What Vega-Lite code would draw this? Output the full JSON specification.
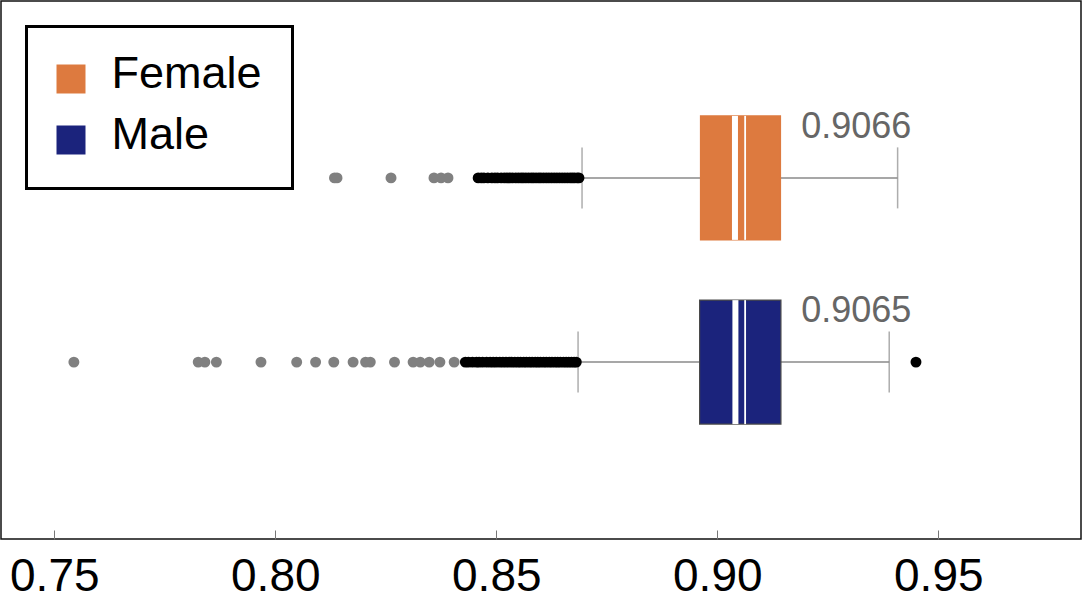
{
  "$schema": "https://vega.github.io/schema/vega-lite/v6.json",
  "width": 1080,
  "height": 538,
  "autosize": {"type": "none"},
  "padding": {"left": 1, "top": 1, "right": 2, "bottom": 65},
  "background": "white",
  "config": {"view": {"stroke": "#111111", "strokeWidth": 1.5}, "font": "Liberation Sans"},
  "datasets": {
    "boxes": [
      {"group": "Female", "lower": 0.8694, "q1": 0.8962, "mean": 0.9040, "median": 0.9063, "q3": 0.9143, "upper": 0.9408, "label": "0.9066"},
      {"group": "Male", "lower": 0.8685, "q1": 0.8960, "mean": 0.9041, "median": 0.9063, "q3": 0.9144, "upper": 0.9389, "label": "0.9065"}
    ],
    "points": [
      {"group": "Female", "value": 0.8459, "kind": "near"},
      {"group": "Female", "value": 0.8466, "kind": "near"},
      {"group": "Female", "value": 0.8472, "kind": "near"},
      {"group": "Female", "value": 0.8481, "kind": "near"},
      {"group": "Female", "value": 0.8490, "kind": "near"},
      {"group": "Female", "value": 0.8497, "kind": "near"},
      {"group": "Female", "value": 0.8503, "kind": "near"},
      {"group": "Female", "value": 0.8511, "kind": "near"},
      {"group": "Female", "value": 0.8518, "kind": "near"},
      {"group": "Female", "value": 0.8524, "kind": "near"},
      {"group": "Female", "value": 0.8531, "kind": "near"},
      {"group": "Female", "value": 0.8537, "kind": "near"},
      {"group": "Female", "value": 0.8544, "kind": "near"},
      {"group": "Female", "value": 0.8550, "kind": "near"},
      {"group": "Female", "value": 0.8556, "kind": "near"},
      {"group": "Female", "value": 0.8561, "kind": "near"},
      {"group": "Female", "value": 0.8567, "kind": "near"},
      {"group": "Female", "value": 0.8573, "kind": "near"},
      {"group": "Female", "value": 0.8579, "kind": "near"},
      {"group": "Female", "value": 0.8584, "kind": "near"},
      {"group": "Female", "value": 0.8590, "kind": "near"},
      {"group": "Female", "value": 0.8596, "kind": "near"},
      {"group": "Female", "value": 0.8601, "kind": "near"},
      {"group": "Female", "value": 0.8607, "kind": "near"},
      {"group": "Female", "value": 0.8613, "kind": "near"},
      {"group": "Female", "value": 0.8619, "kind": "near"},
      {"group": "Female", "value": 0.8625, "kind": "near"},
      {"group": "Female", "value": 0.8631, "kind": "near"},
      {"group": "Female", "value": 0.8637, "kind": "near"},
      {"group": "Female", "value": 0.8643, "kind": "near"},
      {"group": "Female", "value": 0.8649, "kind": "near"},
      {"group": "Female", "value": 0.8655, "kind": "near"},
      {"group": "Female", "value": 0.8661, "kind": "near"},
      {"group": "Female", "value": 0.8667, "kind": "near"},
      {"group": "Female", "value": 0.8672, "kind": "near"},
      {"group": "Female", "value": 0.8677, "kind": "near"},
      {"group": "Female", "value": 0.8683, "kind": "near"},
      {"group": "Female", "value": 0.8687, "kind": "near"},
      {"group": "Female", "value": 0.81339, "kind": "far"},
      {"group": "Female", "value": 0.81396, "kind": "far"},
      {"group": "Female", "value": 0.82618, "kind": "far"},
      {"group": "Female", "value": 0.8359, "kind": "far"},
      {"group": "Female", "value": 0.8375, "kind": "far"},
      {"group": "Female", "value": 0.83907, "kind": "far"},
      {"group": "Male", "value": 0.8430, "kind": "near"},
      {"group": "Male", "value": 0.8437, "kind": "near"},
      {"group": "Male", "value": 0.8446, "kind": "near"},
      {"group": "Male", "value": 0.8455, "kind": "near"},
      {"group": "Male", "value": 0.8461, "kind": "near"},
      {"group": "Male", "value": 0.8469, "kind": "near"},
      {"group": "Male", "value": 0.8478, "kind": "near"},
      {"group": "Male", "value": 0.8486, "kind": "near"},
      {"group": "Male", "value": 0.8493, "kind": "near"},
      {"group": "Male", "value": 0.8500, "kind": "near"},
      {"group": "Male", "value": 0.8508, "kind": "near"},
      {"group": "Male", "value": 0.8515, "kind": "near"},
      {"group": "Male", "value": 0.8522, "kind": "near"},
      {"group": "Male", "value": 0.8529, "kind": "near"},
      {"group": "Male", "value": 0.8535, "kind": "near"},
      {"group": "Male", "value": 0.8542, "kind": "near"},
      {"group": "Male", "value": 0.8549, "kind": "near"},
      {"group": "Male", "value": 0.8555, "kind": "near"},
      {"group": "Male", "value": 0.8562, "kind": "near"},
      {"group": "Male", "value": 0.8568, "kind": "near"},
      {"group": "Male", "value": 0.8575, "kind": "near"},
      {"group": "Male", "value": 0.8581, "kind": "near"},
      {"group": "Male", "value": 0.8588, "kind": "near"},
      {"group": "Male", "value": 0.8594, "kind": "near"},
      {"group": "Male", "value": 0.8600, "kind": "near"},
      {"group": "Male", "value": 0.8607, "kind": "near"},
      {"group": "Male", "value": 0.8613, "kind": "near"},
      {"group": "Male", "value": 0.8620, "kind": "near"},
      {"group": "Male", "value": 0.8626, "kind": "near"},
      {"group": "Male", "value": 0.8633, "kind": "near"},
      {"group": "Male", "value": 0.8639, "kind": "near"},
      {"group": "Male", "value": 0.8645, "kind": "near"},
      {"group": "Male", "value": 0.8652, "kind": "near"},
      {"group": "Male", "value": 0.8658, "kind": "near"},
      {"group": "Male", "value": 0.8664, "kind": "near"},
      {"group": "Male", "value": 0.8670, "kind": "near"},
      {"group": "Male", "value": 0.8676, "kind": "near"},
      {"group": "Male", "value": 0.8681, "kind": "near"},
      {"group": "Male", "value": 0.94495, "kind": "near"},
      {"group": "Male", "value": 0.75443, "kind": "far"},
      {"group": "Male", "value": 0.78256, "kind": "far"},
      {"group": "Male", "value": 0.78407, "kind": "far"},
      {"group": "Male", "value": 0.78667, "kind": "far"},
      {"group": "Male", "value": 0.79676, "kind": "far"},
      {"group": "Male", "value": 0.80484, "kind": "far"},
      {"group": "Male", "value": 0.80912, "kind": "far"},
      {"group": "Male", "value": 0.81323, "kind": "far"},
      {"group": "Male", "value": 0.8176, "kind": "far"},
      {"group": "Male", "value": 0.82043, "kind": "far"},
      {"group": "Male", "value": 0.82149, "kind": "far"},
      {"group": "Male", "value": 0.82697, "kind": "far"},
      {"group": "Male", "value": 0.83118, "kind": "far"},
      {"group": "Male", "value": 0.8328, "kind": "far"},
      {"group": "Male", "value": 0.83482, "kind": "far"},
      {"group": "Male", "value": 0.83724, "kind": "far"},
      {"group": "Male", "value": 0.84047, "kind": "far"}
    ]
  },
  "layer": [
    {
      "data": {"name": "boxes"},
      "mark": {"type": "rule", "color": "#8a8a8a", "strokeWidth": 1.5},
      "encoding": {
        "x": {"field": "lower", "type": "quantitative", "title": null,
          "scale": {"domain": [0.73794, 0.98229], "nice": false, "zero": false},
          "axis": {"values": [0.75, 0.8, 0.85, 0.9, 0.95], "format": ".2f", "labelFontSize": 46, "labelFont": "Liberation Sans", "labelColor": "#000000", "tickSize": -9, "tickColor": "#777777", "tickWidth": 1, "domain": false, "grid": false, "labelPadding": 24, "title": null, "labelFlush": false}},
        "x2": {"field": "upper"},
        "y": {"field": "group", "type": "nominal", "scale": {"type": "band", "domain": ["Female", "Male"], "paddingInner": 0, "paddingOuter": 0.46}, "axis": null}
      }
    },
    {
      "data": {"name": "boxes"},
      "mark": {"type": "tick", "color": "#8a8a8a", "size": 61, "thickness": 1.5, "orient": "vertical"},
      "encoding": {
        "x": {"field": "lower", "type": "quantitative", "title": null},
        "y": {"field": "group", "type": "nominal"}
      }
    },
    {
      "data": {"name": "boxes"},
      "mark": {"type": "tick", "color": "#8a8a8a", "size": 61, "thickness": 1.5, "orient": "vertical"},
      "encoding": {
        "x": {"field": "upper", "type": "quantitative", "title": null},
        "y": {"field": "group", "type": "nominal"}
      }
    },
    {
      "data": {"name": "boxes"},
      "mark": {"type": "bar", "height": 124, "strokeWidth": 1.2},
      "encoding": {
        "x": {"field": "q1", "type": "quantitative", "title": null},
        "x2": {"field": "q3"},
        "y": {"field": "group", "type": "nominal"},
        "fill": {"field": "group", "type": "nominal",
          "scale": {"domain": ["Female", "Male"], "range": ["#DD7A3F", "#1B237C"]},
          "legend": {"orient": "none", "legendX": 25.5, "legendY": 25.5, "title": null, "symbolType": "square", "symbolSize": 841, "symbolStrokeWidth": 0, "symbolOffset": -8, "labelFontSize": 45, "labelFont": "Liberation Sans", "labelColor": "#000000", "padding": 30, "rowPadding": 15, "strokeColor": "#000000", "labelOffset": 18, "fillColor": "white",
            "encode": {"legend": {"update": {"strokeWidth": {"value": 3}}}, "labels": {"update": {"dy": {"value": -5}}}}}},
        "stroke": {"field": "group", "type": "nominal",
          "scale": {"domain": ["Female", "Male"], "range": ["#DD7A3F", "#4a4a4a"]}, "legend": null}
      }
    },
    {
      "data": {"name": "boxes"},
      "mark": {"type": "tick", "color": "#ffffff", "size": 124, "thickness": 6, "orient": "vertical", "opacity": 1},
      "encoding": {
        "x": {"field": "mean", "type": "quantitative", "title": null},
        "y": {"field": "group", "type": "nominal"}
      }
    },
    {
      "data": {"name": "boxes"},
      "mark": {"type": "tick", "color": "#ffffff", "size": 124, "thickness": 1.8, "orient": "vertical", "opacity": 1},
      "encoding": {
        "x": {"field": "median", "type": "quantitative", "title": null},
        "y": {"field": "group", "type": "nominal"}
      }
    },
    {
      "data": {"name": "points"},
      "mark": {"type": "circle", "size": 120, "opacity": 1},
      "encoding": {
        "x": {"field": "value", "type": "quantitative", "title": null},
        "y": {"field": "group", "type": "nominal"},
        "color": {"field": "kind", "type": "nominal", "scale": {"domain": ["near", "far"], "range": ["#000000", "#808080"]}, "legend": null}
      }
    },
    {
      "data": {"name": "boxes"},
      "mark": {"type": "text", "align": "left", "baseline": "alphabetic", "dx": 56, "dy": -40, "fontSize": 36, "fill": "#666666", "font": "Liberation Sans"},
      "encoding": {
        "x": {"field": "median", "type": "quantitative", "title": null},
        "y": {"field": "group", "type": "nominal"},
        "text": {"field": "label"}
      }
    }
  ]
}
